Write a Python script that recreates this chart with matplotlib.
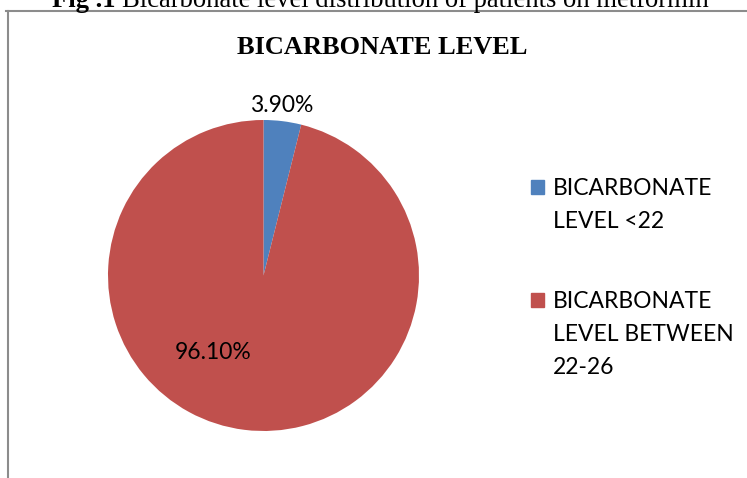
import matplotlib.pyplot as plt
from matplotlib.lines import Line2D
from matplotlib.patches import Rectangle

# data
labels = ['BICARBONATE\nLEVEL <22', 'BICARBONATE\nLEVEL BETWEEN\n22-26']
values = [3.90, 96.10]
colors = ['#4f81bd', '#c0504d']

W, H = 747, 478
fig = plt.figure(figsize=(W / 100, H / 100), dpi=100)
rend = fig.canvas.get_renderer()

# caption above the chart (cut off by the top edge, as in the page crop)
cap_x, cap_w, cap_y = 52, 658, 7
cap_fs = 19
t1 = fig.text(cap_x / W, 1 - cap_y / H, 'Fig .1 ', ha='left', va='baseline', fontsize=cap_fs,
              fontweight='bold', family='Liberation Serif')
w1 = t1.get_window_extent(rend).width
t2 = fig.text((cap_x + w1) / W, 1 - cap_y / H, 'Bicarbonate level distribution of patients on metformin',
              ha='left', va='baseline', fontsize=cap_fs, family='Liberation Serif')
w2 = t2.get_window_extent(rend).width
k = cap_w / (w1 + w2)
t1.set_fontsize(cap_fs * k)
t2.set_fontsize(cap_fs * k)
t2.set_x((cap_x + w1 * k) / W)

# chart frame (top and left edges)
fig.add_artist(Line2D([6 / W, 1], [1 - 11 / H, 1 - 11 / H], color='#8c8c8c', lw=1.5))
fig.add_artist(Line2D([8 / W, 8 / W], [0, 1 - 11 / H], color='#8c8c8c', lw=1.5))

fig.text(382 / W, 1 - 47 / H, 'BICARBONATE LEVEL', ha='center', va='center',
         fontsize=19, fontweight='bold', family='Liberation Serif')

cx, cy, r = 263.5, 275.5, 155.5
ax = fig.add_axes([(cx - r) / W, (H - cy - r) / H, 2 * r / W, 2 * r / H])
wedges, _ = ax.pie(values, colors=colors, startangle=90, counterclock=False,
                   wedgeprops=dict(linewidth=0))
ax.set_xlim(-1, 1)
ax.set_ylim(-1, 1)
ax.set_aspect('equal')

# data labels
ax.text(0.119, 1.095, f'{values[0]:.2f}%', ha='center', va='center', fontsize=16.5, family='Lato')
ax.text(-0.325, -0.498, f'{values[1]:.2f}%', ha='center', va='center', fontsize=16.5, family='Lato')

# legend: square next to the first text line, lines 33 px apart
leg_base = [195, 308]
for lab, col, y in zip(labels, colors, leg_base):
    fig.add_artist(Rectangle((531 / W, 1 - (y - 1) / H), 13 / W, 14 / H, color=col))
    for i, line in enumerate(lab.split('\n')):
        fig.text(553 / W, 1 - (y + 33 * i) / H, line, ha='left', va='baseline',
                 fontsize=16.5, family='Lato')

fig.savefig('out.png', dpi=100)
